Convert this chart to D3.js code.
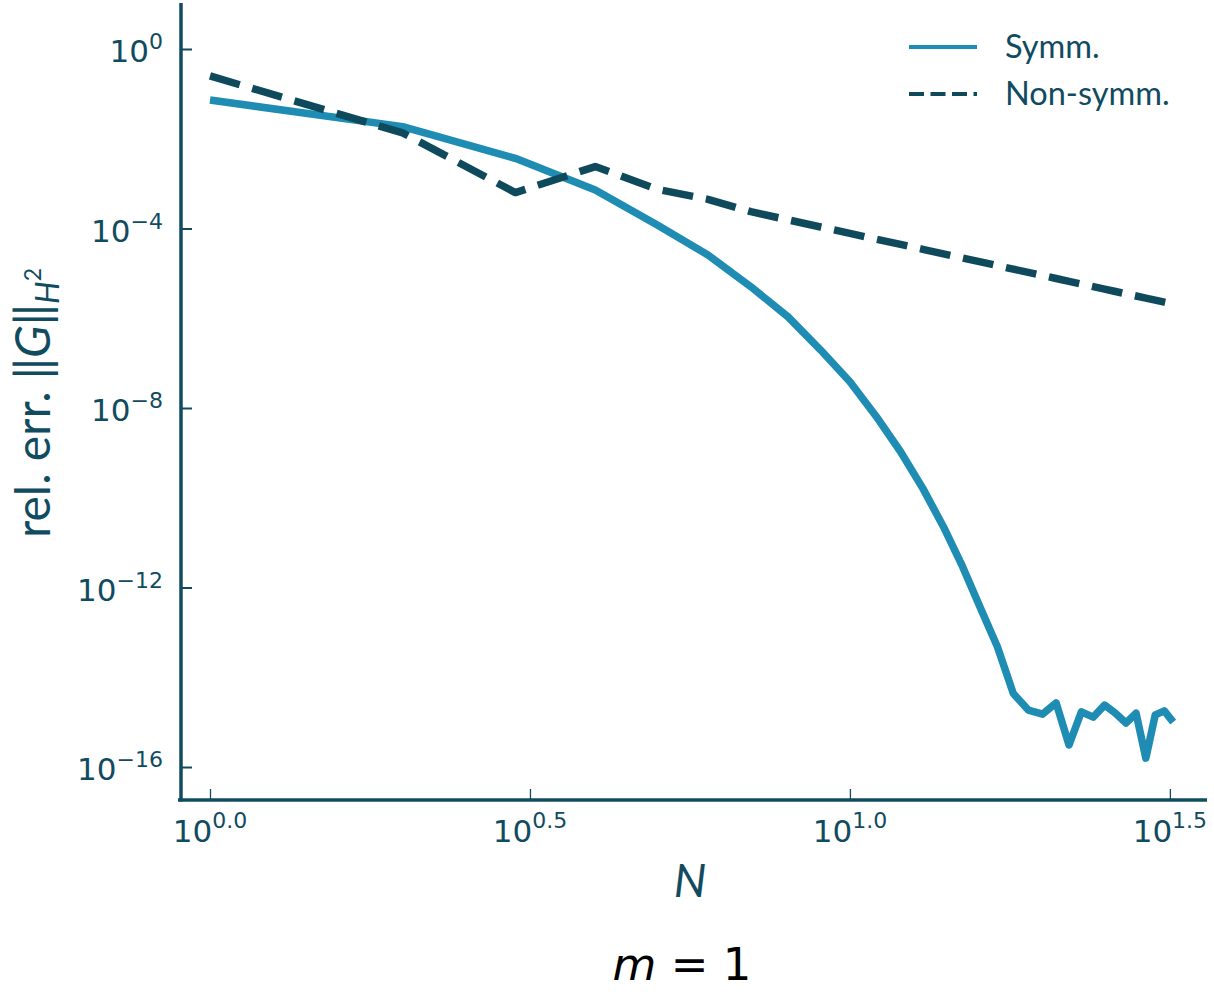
<!DOCTYPE html>
<html>
<head>
<meta charset="utf-8">
<script src="https://cdn.jsdelivr.net/npm/d3@7"></script>
<style>
	body{margin:0;background:#fff;}
	svg{display:block;}
	.axis path,.axis line{stroke:#114b5f;}
	.lbl{fill:#114b5f;}
</style>
</head>
<body>
<div id="chart"></div>
<script>
// N = 1 .. 32
const nValues = d3.range(1, 33);

// rel. err. values (log-log)
const symmErr = [
	7.30e-2, 1.86e-2, 3.66e-3, 7.21e-4, 1.20e-4, 2.57e-5, 5.06e-6, 1.08e-6,
	1.96e-7, 3.85e-8, 6.40e-9, 1.06e-9, 1.62e-10, 2.26e-11, 2.91e-12, 3.44e-13,
	4.79e-14, 4.37e-15, 1.86e-15, 1.51e-15, 2.69e-15, 3.09e-16, 1.70e-15, 1.29e-15,
	2.40e-15, 1.58e-15, 9.55e-16, 1.58e-15, 1.58e-16, 1.45e-15, 1.78e-15, 1.00e-15
];
const nonSymmErr = [
	2.51e-1, 1.35e-2, 6.31e-4, 2.40e-3, 7.46e-4, 4.47e-4, 2.37e-4, 1.56e-4,
	1.08e-4, 7.78e-5, 5.78e-5, 4.41e-5, 3.44e-5, 2.73e-5, 2.20e-5, 1.80e-5,
	1.49e-5, 1.24e-5, 1.05e-5, 8.95e-6, 7.69e-6, 6.65e-6, 5.79e-6, 5.07e-6,
	4.47e-6, 3.94e-6, 3.51e-6, 3.13e-6, 2.81e-6, 2.53e-6, 2.28e-6, 2.07e-6
];

const xTickExp = [0.0, 0.5, 1.0, 1.5];
const yTickExp = [0, -4, -8, -12, -16];
const seriesNames = ['Symm.', 'Non-symm.'];

const width = 1214, height = 994;
const symmColor = '#1f8db3';
const nonSymmColor = '#0e4a5c';

const svg = d3.select('#chart').append('svg')
	.attr('width', width)
	.attr('height', height);

// scales: log10 in both directions
const scaleX = d3.scaleLog().domain([10 ** -0.05, 10 ** 1.558]).range([178, 1207]);
const scaleY = d3.scaleLog().domain([10 ** -16.735, 10 ** 1.025]).range([800, 3]);

// axes (inward ticks, labels drawn separately with superscripts)
const axisX = d3.axisBottom(scaleX)
	.tickValues(xTickExp.map(e => 10 ** e))
	.tickSizeInner(-11)
	.tickSizeOuter(0)
	.tickFormat(() => '');
const axisY = d3.axisLeft(scaleY)
	.tickValues(yTickExp.map(e => 10 ** e))
	.tickSizeInner(-11)
	.tickSizeOuter(0)
	.tickFormat(() => '');

const gx = svg.append('g')
	.attr('class', 'axis axis-x')
	.attr('transform', 'translate(0,800)')
	.call(axisX);
gx.select('.domain').attr('stroke-width', 3.5).attr('d', 'M178,0H1207');
gx.selectAll('.tick line').attr('stroke-width', 1.3);

const gy = svg.append('g')
	.attr('class', 'axis axis-y')
	.attr('transform', 'translate(181,0)')
	.call(axisY);
gy.select('.domain').attr('stroke-width', 3.5).attr('d', 'M0,3V801.5');
gy.selectAll('.tick line').attr('stroke-width', 2);

// tick labels
const fmtExp = e => (e < 0 ? '\u2212' : '') + Math.abs(e);

const yLabels = svg.append('g').selectAll('text')
	.data(yTickExp)
	.join('text')
	.attr('class', 'lbl')
	.attr('x', 163)
	.attr('y', d => scaleY(10 ** d) + 13)
	.attr('text-anchor', 'end')
	.style('font-family', 'DejaVu Sans')
	.style('font-size', '31px');
yLabels.append('tspan').text('10');
yLabels.append('tspan')
	.attr('dy', -13)
	.style('font-size', '22px')
	.text(d => fmtExp(d));

const xLabels = svg.append('g').selectAll('text')
	.data(xTickExp)
	.join('text')
	.attr('class', 'lbl')
	.attr('x', d => scaleX(10 ** d))
	.attr('y', 842)
	.attr('text-anchor', 'middle')
	.style('font-family', 'DejaVu Sans')
	.style('font-size', '31px');
xLabels.append('tspan').text('10');
xLabels.append('tspan')
	.attr('dy', -14)
	.style('font-size', '22px')
	.text(d => d.toFixed(1));

// lines
const line = d3.line()
	.x(d => scaleX(d[0]))
	.y(d => scaleY(d[1]));

svg.append('path')
	.datum(d3.zip(nValues, symmErr))
	.attr('d', line)
	.attr('fill', 'none')
	.attr('stroke', symmColor)
	.attr('stroke-width', 7.5)
	.attr('stroke-linejoin', 'round');

svg.append('path')
	.datum(d3.zip(nValues, nonSymmErr))
	.attr('d', line)
	.attr('fill', 'none')
	.attr('stroke', nonSymmColor)
	.attr('stroke-width', 7.5)
	.attr('stroke-dasharray', '31 13')
	.attr('stroke-linejoin', 'round');

// legend
const legend = svg.append('g').attr('transform', 'translate(909,0)');
const legendRows = legend.selectAll('g')
	.data(seriesNames)
	.join('g')
	.attr('transform', (d, i) => `translate(0,${47 + i * 47})`);
legendRows.append('line')
	.attr('x1', 0).attr('x2', 68)
	.attr('stroke', (d, i) => i === 0 ? symmColor : nonSymmColor)
	.attr('stroke-width', 4)
	.attr('stroke-dasharray', (d, i) => i === 0 ? null : '15 6.5');
legendRows.append('text')
	.attr('class', 'lbl')
	.attr('x', 96)
	.attr('y', 11)
	.style('font-family', 'Lato')
	.style('font-size', '32.5px')
	.text(d => d);

// axis titles
svg.append('text')
	.attr('class', 'lbl')
	.attr('x', 690)
	.attr('y', 897)
	.attr('text-anchor', 'middle')
	.style('font-family', 'Lato')
	.style('font-style', 'italic')
	.style('font-size', '46px')
	.text('N');

const yTitle = svg.append('text')
	.attr('class', 'lbl')
	.attr('transform', 'translate(50,403) rotate(-90)')
	.attr('text-anchor', 'middle')
	.style('font-family', 'Lato')
	.style('font-size', '48px');
yTitle.append('tspan').text('rel. err. \u2016');
yTitle.append('tspan').style('font-style', 'italic').text('G');
yTitle.append('tspan').text('\u2016');
yTitle.append('tspan').attr('dy', 9).style('font-style', 'italic').style('font-size', '32px').text('H');
yTitle.append('tspan').attr('dy', -18).style('font-size', '23px').text('2');

// panel title
const title = svg.append('text')
	.attr('x', 682)
	.attr('y', 980)
	.attr('text-anchor', 'middle')
	.style('font-family', 'DejaVu Sans')
	.style('font-size', '45px')
	.attr('fill', '#000');
title.append('tspan').style('font-style', 'italic').text('m');
title.append('tspan').text(' = 1');
</script>
</body>
</html>
